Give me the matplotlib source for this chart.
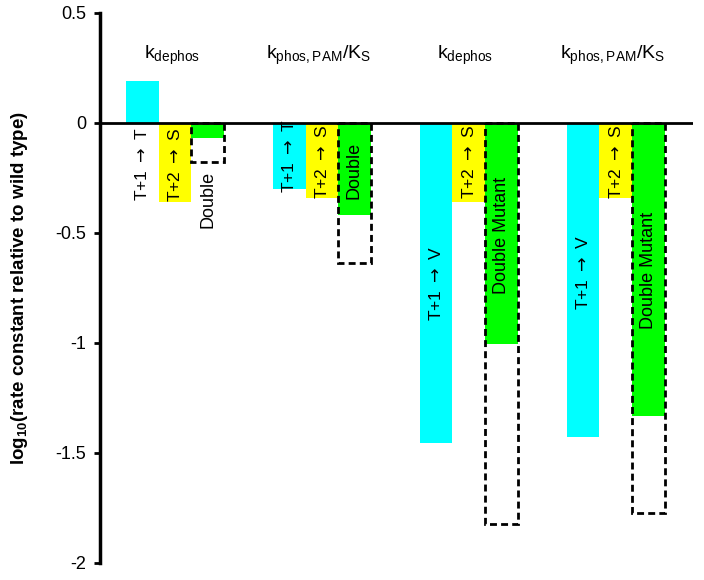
import numpy as np
import matplotlib.pyplot as plt

plt.rcParams['font.family'] = ['Liberation Sans', 'DejaVu Sans']
plt.rcParams['mathtext.fontset'] = 'dejavusans'

groups = [r'$\mathregular{k_{dephos}}$', r'$\mathregular{k_{phos,PAM}/K_S}$',
          r'$\mathregular{k_{dephos}}$', r'$\mathregular{k_{phos,PAM}/K_S}$']

# log10 values
first = [0.19, -0.30, -1.455, -1.43]
second = [-0.36, -0.34, -0.36, -0.34]
double = [-0.07, -0.42, -1.005, -1.335]
additive = [-0.18, -0.635, -1.825, -1.775]

first_names = [r'T+1$\;\rightarrow\;$T', r'T+1$\;\rightarrow\;$T',
               r'T+1$\;\rightarrow\;$V', r'T+1$\;\rightarrow\;$V']
second_names = [r'T+2$\;\rightarrow\;$S'] * 4
double_names = ['Double', 'Double', 'Double Mutant', 'Double Mutant']

# where the rotated names sit
first_ypos = [-0.19, -0.15, -0.73, -0.68]
second_ypos = [-0.19, -0.18, -0.18, -0.18]
double_ypos = [-0.35, -0.215, -0.51, -0.67]

fig = plt.figure(figsize=(7.04, 5.8), dpi=100)
ax = fig.add_axes([0.142, 0.0298, 0.842, 0.948])

x = np.arange(4) * 4.5
ax.bar(x, first, width=1, color='#00ffff', zorder=2)
ax.bar(x + 1, second, width=1, color='#ffff00', zorder=2)
ax.bar(x + 2, double, width=1, color='#00ff00', zorder=2)
ax.bar(x + 2, additive, width=1, fill=False, edgecolor='black',
       linestyle=(0, (2.5, 1.5)), linewidth=2, zorder=3)

ax.axhline(0, color='black', linewidth=2, zorder=4)

for i in range(4):
    ax.text(x[i], first_ypos[i], first_names[i], rotation=90,
            ha='center', va='center', fontsize=12.5, zorder=5)
    ax.text(x[i] + 1, second_ypos[i], second_names[i], rotation=90,
            ha='center', va='center', fontsize=12.5, zorder=5)
    ax.text(x[i] + 2, double_ypos[i], double_names[i], rotation=90,
            ha='center', va='center', fontsize=13, zorder=5)
    ax.text(x[i] + 0.9, 0.29, groups[i], ha='center', va='baseline',
            fontsize=14)

ax.set_xlim(-1.295, 16.86)
ax.set_ylim(-2, 0.5)
ax.set_yticks([0.5, 0, -0.5, -1, -1.5, -2])
ax.set_yticklabels(['0.5', '0', '-0.5', '-1', '-1.5', '-2'])
ax.set_xticks([])

for s in ['top', 'right', 'bottom']:
    ax.spines[s].set_visible(False)
ax.spines['left'].set_linewidth(2.5)
ax.tick_params(axis='y', direction='out', length=4, width=2, pad=6,
               labelsize=13)

ax.set_ylabel(r'log$_{\mathregular{10}}$(rate constant relative to wild type)',
              fontsize=13.5, fontweight='bold', labelpad=18)

plt.savefig('out.png')
